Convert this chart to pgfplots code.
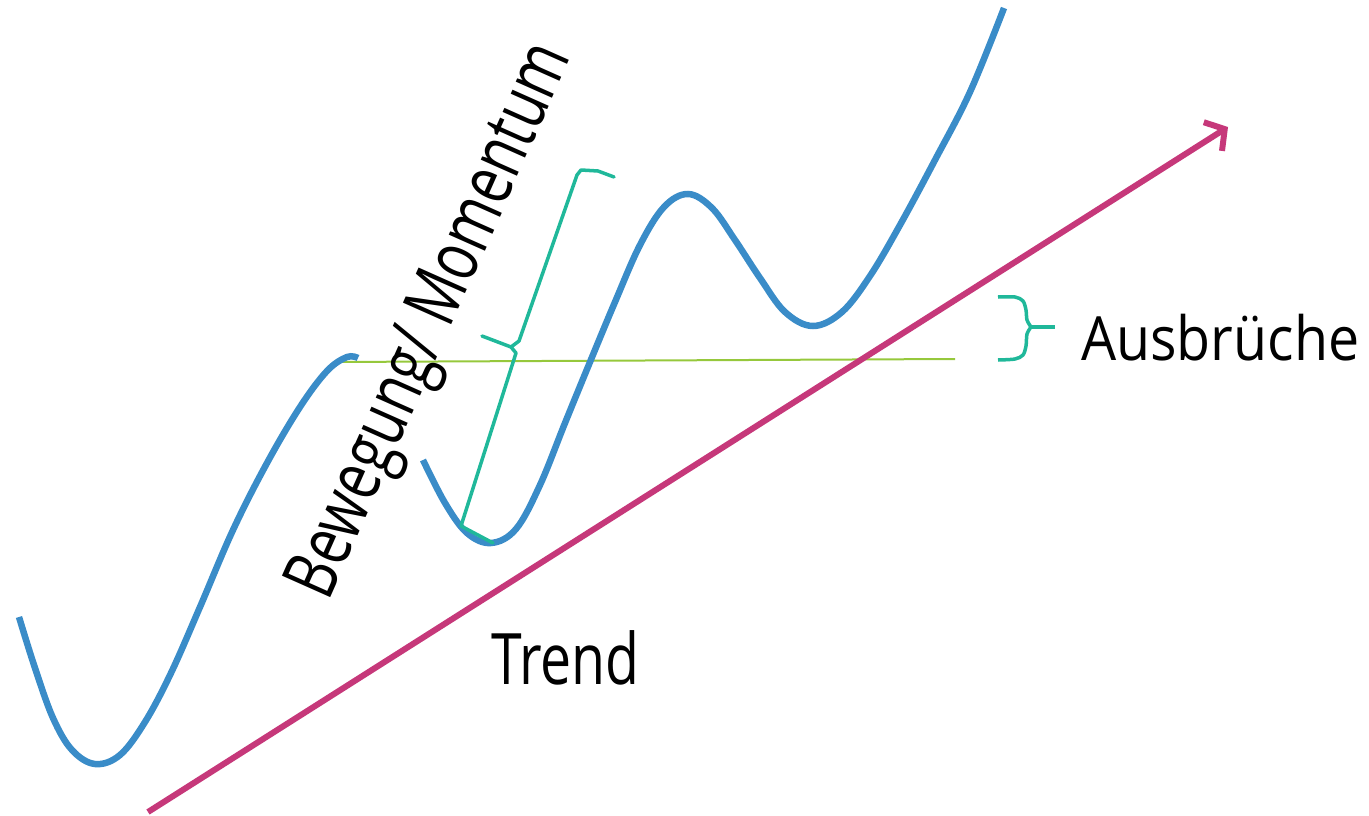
\documentclass[border=0pt]{standalone}
\usepackage{fontspec}
\setmainfont{Open Sans}
\usepackage{pgfplots}
\pgfplotsset{compat=1.18}
\usetikzlibrary{arrows.meta}
\definecolor{cblue}{RGB}{58,140,200}
\definecolor{cmag}{RGB}{198,56,122}
\definecolor{cteal}{RGB}{32,184,154}
\definecolor{cgreen}{RGB}{150,200,60}
\begin{document}
\begin{tikzpicture}
\begin{axis}[
  scale only axis, width=1369pt, height=816pt,
  xmin=0, xmax=1369, ymin=0, ymax=816, y dir=reverse,
  hide axis, clip=false,
]
% green level line
\addplot[cgreen, line width=2pt] coordinates {(334,362) (955,359)};
% trend arrow
\addplot[cmag, line width=6pt, -{Straight Barb[length=14pt,width=34pt,line width=6pt]}] coordinates {(148,812) (1228,127)};
% blue curve 1
\addplot[cblue, line width=6.5pt, smooth, tension=0.6] coordinates {
(19,617) (35,668) (53,718) (72,750) (95,764) (120,755) (145,722) (171,673)
(200,607) (233,530) (267,463) (300,407) (327,371) (347,357) (358,358)};
% blue curve 2
\addplot[cblue, line width=6.5pt, smooth, tension=0.6] coordinates {
(423,460) (445,503) (467,533) (491,543) (516,529) (540,485) (565,423) (590,362)
(615,302) (640,245) (664,207) (688,194) (712,208) (735,240) (760,278) (785,312)
(813,326) (842,312) (870,276) (900,225) (935,160) (970,92) (1004,8)};
% teal bracket along momentum
\addplot[cteal, line width=3.5pt, line join=round, line cap=round] coordinates {
(614,177) (598,171) (581,170) (577,175) (519,341) (511,347) (516,353) (461,526) (493,543)};
\addplot[cteal, line width=3.5pt, line cap=round] coordinates {(511,347) (482,336)};
% teal brace for Ausbrueche
\addplot[cteal, line width=3.5pt, smooth, tension=0.5] coordinates {
(998,297) (1015,297) (1023,301) (1026,310) (1027,320) (1031,327)};
\addplot[cteal, line width=3.5pt, smooth, tension=0.5] coordinates {
(1031,327) (1027,334) (1026,346) (1023,355) (1015,359) (998,360)};
\addplot[cteal, line width=3.5pt] coordinates {(1031,327) (1055,327)};
% texts
\node[anchor=base west, inner sep=0pt] at (axis cs:1081,360) {\scalebox{0.91}[1]{\fontsize{61}{70}\selectfont Ausbrüche}};
\node[anchor=base west, inner sep=0pt] at (axis cs:491,684) {\scalebox{0.78}[1]{\fontsize{71}{80}\selectfont Trend}};
\node[anchor=center, inner sep=0pt, rotate=66] at (axis cs:434,322) {\scalebox{0.735}[1]{\fontsize{74}{84}\selectfont Bewegung/ Momentum}};
\end{axis}
\pgfresetboundingbox
\path[use as bounding box] (0,0) rectangle (1369pt,816pt);
\end{tikzpicture}
\end{document}
